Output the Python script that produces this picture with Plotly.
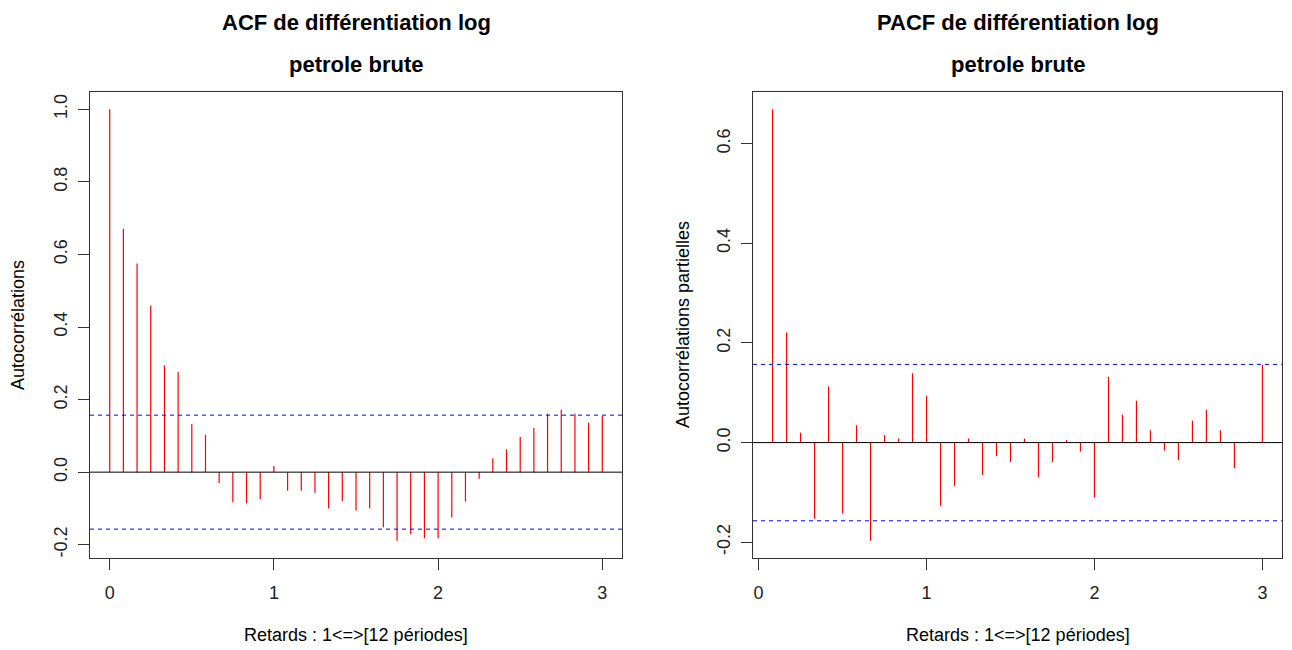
import plotly.graph_objects as go

# ---------------- data ----------------
acf_lags = [k / 12 for k in range(37)]
acf_vals = [1.0, 0.671, 0.575, 0.459, 0.294, 0.277, 0.133, 0.103, -0.030, -0.083,
            -0.086, -0.074, 0.017, -0.051, -0.051, -0.057, -0.100, -0.080, -0.106,
            -0.100, -0.152, -0.189, -0.171, -0.182, -0.182, -0.125, -0.081, -0.018,
            0.038, 0.063, 0.097, 0.122, 0.161, 0.172, 0.161, 0.136, 0.155]

pacf_lags = [k / 12 for k in range(1, 37)]
pacf_vals = [0.669, 0.221, 0.020, -0.153, 0.113, -0.142, 0.035, -0.197, 0.015, 0.008,
             0.139, 0.094, -0.127, -0.087, 0.008, -0.065, -0.027, -0.039, 0.008,
             -0.070, -0.039, 0.005, -0.018, -0.110, 0.132, 0.056, 0.084, 0.025,
             -0.016, -0.035, 0.044, 0.066, 0.025, -0.051, 0.002, 0.156]

ci = 0.157

x_ticks = [0, 1, 2, 3]
x_ticktext = ["0", "1", "2", "3"]
acf_yticks = [-0.2, 0.0, 0.2, 0.4, 0.6, 0.8, 1.0]
acf_yticktext = ["-0.2", "0.0", "0.2", "0.4", "0.6", "0.8", "1.0"]
pacf_yticks = [-0.2, 0.0, 0.2, 0.4, 0.6]
pacf_yticktext = ["-0.2", "0.0", "0.2", "0.4", "0.6"]

titles = ["ACF de différentiation log", "PACF de différentiation log"]
subtitle = "petrole brute"
xlabel = "Retards : 1<=>[12 périodes]"
ylabels = ["Autocorrélations", "Autocorrélations partielles"]

# ---------------- layout helpers ----------------
W, H = 1292, 650
FONT = "Liberation Sans, Arial, sans-serif"


def px_x(p):
    return p / W


def px_y(p):
    return 1 - p / H


def r_range(vals):
    lo, hi = min(vals), max(vals)
    d = (hi - lo) * 0.04
    return [lo - d, hi + d]


def stems(lags, vals):
    xs, ys = [], []
    for l, v in zip(lags, vals):
        xs += [l, l, None]
        ys += [0, v, None]
    return xs, ys


fig = go.Figure()

panels = [
    dict(lags=acf_lags, vals=acf_vals, box=(90, 622), yt=acf_yticks, ytt=acf_yticktext,
         xa="x", ya="y", xaxis="xaxis", yaxis="yaxis", ylx=18),
    dict(lags=pacf_lags, vals=pacf_vals, box=(753, 1282), yt=pacf_yticks, ytt=pacf_yticktext,
         xa="x2", ya="y2", xaxis="xaxis2", yaxis="yaxis2", ylx=683),
]
top, bottom = 92, 558

for i, p in enumerate(panels):
    xs, ys = stems(p["lags"], p["vals"])
    fig.add_trace(go.Scatter(x=xs, y=ys, mode="lines", line=dict(color="#FF0000", width=1.2),
                             xaxis=p["xa"], yaxis=p["ya"], showlegend=False, hoverinfo="skip"))
    xr = r_range(p["lags"])
    yr = r_range(p["vals"] + [ci, -ci])
    axcommon = dict(showgrid=False, zeroline=False, showline=True, mirror=True,
                    linecolor="#333333", linewidth=1, ticks="outside", ticklen=11,
                    tickwidth=1, tickcolor="#333333",
                    tickfont=dict(family=FONT, size=18, color="#222222"))
    fig.update_layout(**{
        p["xaxis"]: dict(domain=[px_x(p["box"][0]), px_x(p["box"][1])], range=xr,
                         tickmode="array", tickvals=x_ticks, ticktext=x_ticktext,
                         anchor=p["ya"], ticklabelstandoff=7, **axcommon),
        p["yaxis"]: dict(domain=[px_y(bottom), px_y(top)], range=yr,
                         tickmode="array", tickvals=p["yt"], ticktext=p["ytt"],
                         anchor=p["xa"], tickangle=-90, ticklabelstandoff=4, **axcommon),
    })
    # zero line and confidence bounds
    fig.add_shape(type="line", xref=p["xa"] + " domain", yref=p["ya"], x0=0, x1=1, y0=0, y1=0,
                  line=dict(color="black", width=1))
    for c in (ci, -ci):
        fig.add_shape(type="line", xref=p["xa"] + " domain", yref=p["ya"], x0=0, x1=1, y0=c, y1=c,
                      line=dict(color="#0000FF", width=1, dash="4px,4px"))
    cx = px_x((p["box"][0] + p["box"][1]) / 2)
    common_ann = dict(xref="paper", yref="paper", showarrow=False,
                      xanchor="center", yanchor="middle")
    fig.add_annotation(x=cx, y=px_y(22), text="<b>%s</b>" % titles[i],
                       font=dict(family=FONT, size=22, color="black"), **common_ann)
    fig.add_annotation(x=cx, y=px_y(64), text="<b>%s</b>" % subtitle,
                       font=dict(family=FONT, size=22, color="black"), **common_ann)
    fig.add_annotation(x=cx, y=px_y(635), text=xlabel,
                       font=dict(family=FONT, size=18, color="black"), **common_ann)
    fig.add_annotation(x=px_x(p["ylx"]), y=px_y((top + bottom) / 2), text=ylabels[i],
                       textangle=-90, font=dict(family=FONT, size=18, color="black"),
                       **common_ann)

fig.update_layout(width=W, height=H, margin=dict(l=0, r=0, t=0, b=0),
                  paper_bgcolor="white", plot_bgcolor="white")

fig.write_html("out.html")
